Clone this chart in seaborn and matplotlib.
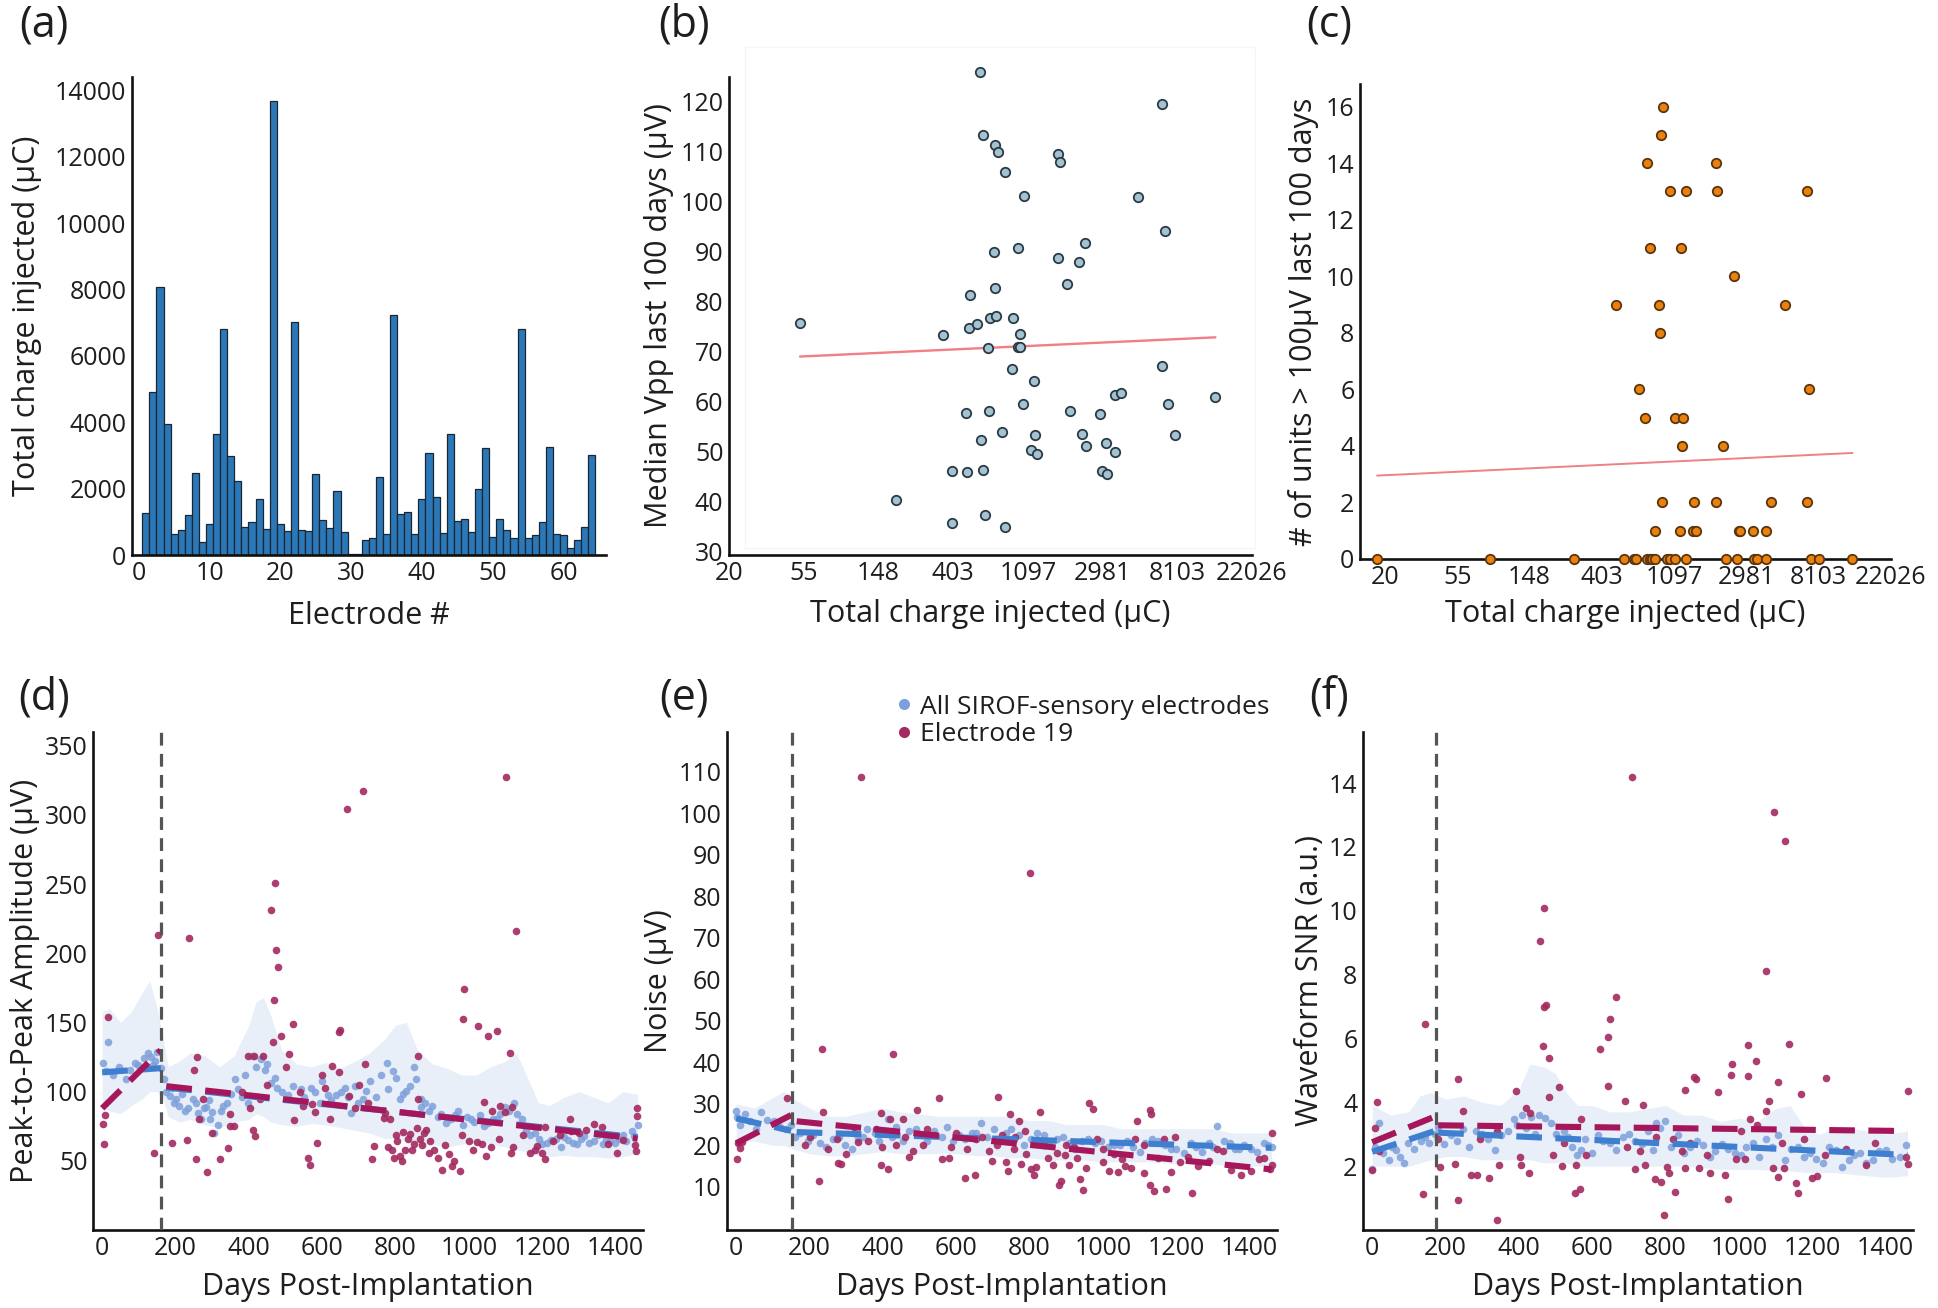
import matplotlib

matplotlib.use("Agg")

import matplotlib.pyplot as plt
from matplotlib.lines import Line2D
from matplotlib.patches import Rectangle
from matplotlib.ticker import NullLocator
import numpy as np
import seaborn as sns

W, H = 1938, 1308

TEXT = "#1e1e1e"
BAR = "#2a78b8"
BAR_EDGE = "#1c2530"
B_FACE = "#a3c2d2"
B_EDGE = "#2b3a44"
C_FACE = "#e8820c"
C_EDGE = "#5b3410"
FIT = "#f07f86"
BLUE_PT = "#7d9fdb"
RED_PT = "#a32a5f"
BLUE_LINE = "#3f7fcf"
RED_LINE = "#a5175a"
BAND = "#e9eff8"
VLINE = "#555555"

# ---------------- panel (a) ----------------
ELECTRODES = list(range(65))
A_CHARGE = [0, 1259, 4924, 8076, 3947, 624, 755, 1208, 2457, 393,
            946, 3645, 6797, 2991, 2235, 856, 997, 1702, 775, 13685,
            926, 725, 7019, 755, 725, 2437, 1047, 826, 1913, 705,
            40, 30, 443, 524, 2356, 624, 7220, 1228, 1299, 644,
            1702, 3061, 1752, 654, 3645, 1027, 1077, 695, 1984, 3212,
            554, 1077, 745, 524, 6797, 503, 594, 1007, 3242, 624,
            604, 222, 443, 846, 3021]

# ---------------- panel (b) ----------------
B_CHARGE = [578, 602, 706, 735, 812, 1043, 1636, 1686, 4768, 6634,
            6905, 699, 963, 1640, 2164, 2368, 702, 1845, 507, 52,
            351, 498, 556, 659, 713, 898, 992, 646, 960, 982,
            889, 1188, 6620, 3533, 3827, 13496, 1033, 7115, 478, 650,
            1920, 2892, 781, 1212, 2275, 7863, 584, 2392, 3134, 1141,
            1236, 3540, 399, 483, 600, 2951, 3166, 189, 614, 400, 804]
B_VPP = [126.0, 113.3, 111.4, 109.9, 106.0, 101.2, 109.6, 108.0, 100.9, 119.6,
         94.2, 90.0, 90.7, 88.8, 88.0, 91.7, 82.7, 83.5, 81.4, 75.7,
         73.3, 74.7, 75.5, 76.8, 77.1, 76.8, 73.6, 70.8, 71.0, 71.0,
         66.5, 64.2, 67.2, 61.3, 61.8, 61.0, 59.5, 59.6, 57.8, 58.2,
         58.2, 57.5, 53.9, 53.3, 53.5, 53.3, 52.3, 51.2, 51.8, 50.4,
         49.5, 50.0, 46.2, 46.0, 46.3, 46.2, 45.6, 40.4, 37.3, 35.7, 34.9]

# ---------------- panel (c) ----------------
C_CHARGE = [944, 916, 757, 1959, 1033, 1287, 1979, 6905, 781, 1200,
            2515, 488, 889, 5117, 898, 672, 7115, 735, 1119, 1236,
            1224, 2164, 925, 1451, 1959, 4188, 6905, 846, 1188, 1422,
            1495, 2697, 2752, 3262, 3905, 18, 86, 276, 545, 633,
            652, 757, 781, 812, 837, 992, 1043, 1119, 1287, 2253,
            2618, 3333, 3463, 3905, 7259, 8103, 12966]
C_UNITS = [16, 15, 14, 14, 13, 13, 13, 13, 11, 11,
           10, 9, 9, 9, 8, 6, 6, 5, 5, 5,
           4, 4, 2, 2, 2, 2, 2, 1, 1, 1,
           1, 1, 1, 1, 1, 0, 0, 0, 0, 0,
           0, 0, 0, 0, 0, 0, 0, 0, 0, 0,
           0, 0, 0, 0, 0, 0, 0]
# fitted trend as drawn in the figure (end points)
C_FIT_CHARGE = [18, 12966]
C_FIT_UNITS = [2.95, 3.75]

CHARGE_TICKS = [20.09, 54.6, 148.4, 403.4, 1096.6, 2981.0, 8103.1, 22026.5]
CHARGE_LABELS = ["20", "55", "148", "403", "1097", "2981", "8103", "22026"]

# ---------------- panel (d) peak-to-peak ----------------
D_BAND_DAYS = [0, 20, 50, 80, 110, 130, 150, 165, 180, 210, 240, 280, 320, 360, 400,
               420, 440, 460, 490, 530, 570, 610, 650, 690, 730, 770, 800, 830, 860,
               900, 940, 980, 1020, 1060, 1100, 1130, 1160, 1190, 1220, 1260, 1300,
               1340, 1380, 1420, 1460]
D_BAND_HI = [158, 160, 150, 158, 172, 180, 160, 140, 118, 122, 128, 126, 118, 126, 148,
             165, 168, 155, 130, 120, 118, 121, 117, 122, 128, 138, 148, 150, 130,
             120, 117, 112, 112, 118, 122, 128, 110, 92, 90, 96, 100,
             96, 92, 100, 98]
D_BAND_LO = [88, 86, 84, 90, 95, 100, 100, 96, 82, 78, 80, 76, 74, 78, 80,
             84, 82, 78, 76, 75, 77, 76, 74, 72, 70, 66, 66, 64, 62,
             62, 60, 62, 63, 62, 60, 58, 56, 54, 53, 54, 53,
             53, 52, 53, 55]
D_BLUE = [(2, 121), (10, 115), (17, 136), (30, 112), (45, 118), (64, 109), (75, 116),
          (90, 121), (99, 119), (115, 124), (125, 128), (133, 125), (139, 119), (145, 122),
          (150, 129), (160, 117), (168, 109), (175, 100), (185, 97), (191, 103), (195, 92),
          (202, 95), (210, 90), (218, 98), (225, 86), (235, 88), (248, 95), (255, 92),
          (260, 84.6), (270, 80), (278, 88), (283, 89), (290, 94), (294, 80), (300, 85),
          (306, 70), (315, 76), (323, 86), (330, 90), (340, 92), (350, 98), (363, 109),
          (370, 102), (380, 96), (390, 112), (398, 92), (409, 126), (420, 118), (432, 123.5),
          (444, 116), (450, 120), (461, 106), (470, 110), (478, 103), (490, 100), (507, 97.6),
          (520, 104), (541, 102), (550, 96), (570, 103), (580, 100), (593, 92), (600, 108),
          (616, 97.6), (625, 94), (639, 97.6), (650, 100), (662, 103), (670, 96), (679, 84.6),
          (690, 104), (697, 92), (710, 95), (720, 100.5), (730, 108), (748, 96), (760, 112),
          (777, 120.7), (780, 102), (794, 115), (800, 110), (811, 94.7), (820, 98),
          (829, 100.5), (840, 104), (850, 118), (857, 109), (869, 89), (870, 95), (880, 92),
          (892, 86), (900, 90), (915, 81.7), (925, 84), (938, 77.4), (950, 80), (961, 83),
          (970, 86), (984, 76), (995, 82), (1007, 80.3), (1015, 78), (1030, 83), (1040, 75),
          (1053, 77.4), (1065, 80), (1076, 80.3), (1085, 84), (1099, 89), (1110, 86),
          (1122, 92), (1130, 84), (1145, 80.3), (1155, 72), (1168, 68.7), (1180, 70),
          (1191, 66), (1200, 62), (1214, 63), (1225, 65), (1237, 66), (1250, 60),
          (1260, 67.3), (1270, 65), (1283, 63), (1295, 62), (1306, 66), (1315, 68),
          (1329, 63), (1340, 64), (1352, 68.7), (1365, 62), (1375, 66), (1385, 64),
          (1398, 63), (1410, 66), (1421, 68.7), (1430, 64), (1444, 71.6), (1450, 68),
          (1461, 76)]
D_RED = [(2, 76.5), (4, 62), (9, 83), (17, 154), (141, 55.5), (152, 213), (191, 63),
         (231, 65), (238, 211), (251, 116), (256, 51), (259, 125), (265, 80), (275, 95),
         (286, 42), (300, 70), (322, 51.4), (343, 59.5), (349, 83.7), (349, 75.4),
         (360, 75), (380, 100), (399, 126), (403, 88.4), (410, 72.5), (415, 125.6),
         (416, 67.9), (430, 95), (438, 125.6), (450, 105), (461, 231), (465, 135.7),
         (468, 166), (472, 251), (475, 202.5), (480, 190), (487, 140), (500, 118),
         (510, 127.3), (521, 149), (524, 79.4), (540, 100), (547, 90), (561, 52), (567, 47),
         (572, 91), (580, 85), (587, 63), (600, 112), (607, 102.5), (620, 80), (628, 118.6),
         (645, 114.3), (647, 143), (649, 144.6), (669, 304.4), (674, 96.7), (690, 88),
         (700, 105), (710, 317.4), (716, 120), (725, 92), (737, 51.4), (741, 61),
         (768, 81), (770, 84.6), (780, 60), (785, 80.6), (791, 57.8), (795, 52),
         (800, 68.7), (805, 64), (811, 53.5), (817, 49.7), (820, 70.5), (826, 58),
         (835, 66), (840, 69.3), (845, 57.8), (850, 62), (858, 74), (862, 126),
         (862, 94.7), (868, 66), (872, 61.5), (878, 70), (883, 72.5), (890, 55.8),
         (895, 64), (905, 58), (915, 52), (928, 43.4), (934, 61.5), (945, 55),
         (953, 46.3), (960, 50), (975, 42.8), (982, 68.7), (984, 152.7), (986, 174),
         (1000, 64), (1010, 58), (1021, 63.8), (1026, 147.8), (1035, 62), (1041, 92.7),
         (1047, 53.5), (1051, 140), (1060, 60), (1064, 86), (1077, 144), (1083, 65.9),
         (1084, 89.5), (1099, 85.5), (1101, 327.8), (1113, 128.2), (1114, 55.8),
         (1117, 88.9), (1120, 60.1), (1128, 216), (1148, 68.7), (1166, 55.8), (1180, 58),
         (1187, 61), (1200, 56), (1209, 51.4), (1209, 74.5), (1230, 64), (1248, 68.7),
         (1277, 80.3), (1279, 71.6), (1300, 70), (1320, 72), (1340, 76.8), (1363, 74.5),
         (1380, 62), (1403, 55.5), (1420, 65), (1453, 61.5), (1457, 57.2), (1459, 82.3),
         (1460, 88)]
D_PRE_DAYS = [0, 160]
D_POST_DAYS = [175, 1460]
D_BLUE_PRE = [114, 117]
D_BLUE_POST = [103, 67]
D_RED_PRE = [88, 130]
D_RED_POST = [104, 66]

# ---------------- panel (e) noise ----------------
E_BAND_DAYS = [0, 50, 100, 130, 160, 200, 250, 300, 350, 400, 450, 500, 550, 600, 650,
               700, 750, 800, 850, 900, 950, 1000, 1050, 1100, 1150, 1200, 1250, 1300,
               1350, 1400, 1460]
E_BAND_HI = [30, 29, 31.5, 33, 31, 29, 27, 27, 28, 29, 28, 27.5, 27, 27, 27,
             27, 27, 26, 26, 25, 25, 25, 24, 24, 24, 24, 24, 24,
             23, 23, 23]
E_BAND_LO = [21, 21, 20, 20, 19, 18, 17.5, 17.5, 18, 18.5, 18, 18, 18, 18, 17.5,
             17.5, 17, 17, 16.5, 16.5, 16.5, 16, 16, 16, 16, 15.5, 15.5, 15.5,
             15, 15, 15]
E_BLUE = [(0, 28.2), (2, 26.8), (10, 25), (25, 27.5), (39, 25.8), (55, 24), (68, 28),
          (85, 26), (103, 25.8), (120, 24.5), (137, 23.9), (150, 25), (160, 22), (175, 23),
          (195, 21), (210, 22.5), (229, 20.6), (245, 19.5), (264, 21.5), (280, 22),
          (298, 20.1), (315, 19), (333, 21.5), (345, 22), (356, 23.9), (379, 23), (390, 21),
          (414, 26.3), (425, 22), (437, 24.4), (455, 21), (472, 23.4), (490, 24),
          (506, 22.5), (520, 21), (540, 23.4), (560, 22), (576, 24.4), (590, 21),
          (609, 22.5), (625, 21.5), (644, 23), (655, 23), (667, 25.4), (685, 22),
          (702, 23.9), (720, 21), (736, 23), (750, 24), (771, 22.5), (785, 20),
          (805, 21.5), (820, 23), (840, 22.5), (855, 20), (874, 21.5), (890, 22),
          (909, 20.6), (925, 19), (944, 21), (960, 21.5), (978, 20.6), (995, 21),
          (1013, 19.6), (1030, 20), (1047, 20.1), (1065, 21), (1082, 19.6), (1100, 18.5),
          (1116, 20.6), (1135, 21.5), (1151, 21), (1170, 20), (1185, 19.1), (1200, 19),
          (1220, 18.2), (1240, 20.5), (1255, 19.6), (1270, 18.5), (1289, 20.6),
          (1300, 19.5), (1312, 24.7), (1330, 21), (1347, 20.6), (1360, 19), (1370, 19.1),
          (1385, 20), (1404, 19.1), (1420, 18.5), (1439, 20.6), (1450, 20), (1462, 19.6)]
E_RED = [(2, 16.7), (4, 20.6), (10, 19.4), (16, 20.7), (139, 31.3), (189, 20.1),
         (200, 22), (227, 11.4), (235, 43.1), (237, 28), (250, 19), (275, 21.5),
         (278, 15.8), (287, 15.4), (300, 18), (320, 23), (333, 20.7), (341, 108.7),
         (360, 21), (380, 24), (396, 27.9), (396, 15.3), (398, 19.6), (415, 14.3),
         (420, 26.3), (427, 42.1), (437, 20.1), (454, 26.3), (460, 22), (471, 17.2),
         (483, 18.6), (494, 28.4), (510, 20), (520, 24), (540, 22.5), (554, 31.4),
         (561, 16.7), (580, 16.9), (586, 19.6), (600, 23), (623, 12.1), (630, 19),
         (650, 12.9), (655, 21.5), (670, 22), (690, 18.6), (699, 16.2), (710, 20),
         (715, 31.6), (725, 22.5), (736, 16), (742, 13.8), (748, 27.5), (759, 19.1),
         (760, 22), (771, 25.8), (777, 15.5), (788, 23.4), (790, 18), (800, 85.7),
         (805, 14.3), (811, 12.9), (817, 14.8), (828, 28), (840, 20.1), (850, 17),
         (863, 15.3), (874, 18.2), (880, 10.5), (886, 11.4), (897, 17.7), (900, 20),
         (909, 15.3), (921, 19.6), (930, 17), (938, 12), (946, 9.2), (955, 14.6),
         (963, 30.2), (972, 28.7), (984, 21.5), (1000, 16), (1001, 19.1), (1018, 13.8),
         (1030, 18), (1041, 13.6), (1053, 16.7), (1060, 15), (1076, 14.5), (1088, 21.5),
         (1093, 25.8), (1111, 13.4), (1111, 20.1), (1128, 28.5), (1128, 10.5),
         (1131, 27.5), (1139, 9), (1150, 17), (1168, 21.5), (1171, 9.5), (1187, 13.6),
         (1197, 22), (1210, 16), (1232, 17.2), (1243, 8.6), (1260, 15), (1289, 16.2),
         (1310, 19), (1329, 18.6), (1350, 14), (1376, 12.9), (1404, 13.8), (1427, 16.7),
         (1440, 17), (1456, 14.3), (1462, 15.3), (1462, 23)]
E_PRE_DAYS = [0, 150]
E_POST_DAYS = [165, 1460]
E_BLUE_PRE = [26.5, 23.5]
E_BLUE_POST = [23.2, 19.4]
E_RED_PRE = [20.5, 27.3]
E_RED_POST = [25.8, 14.2]

# ---------------- panel (f) waveform SNR ----------------
F_BAND_DAYS = [0, 50, 100, 130, 160, 200, 250, 300, 350, 400, 430, 470, 500, 530, 560,
               600, 650, 700, 750, 800, 850, 900, 950, 1000, 1050, 1100, 1140, 1180,
               1220, 1260, 1300, 1350, 1400, 1460]
F_BAND_HI = [3.9, 3.6, 3.7, 4.2, 4.3, 4.1, 4.2, 4.0, 3.9, 4.4, 5.2, 5.1, 4.9, 4.3, 3.9,
             3.9, 3.7, 3.7, 3.8, 3.9, 3.6, 3.6, 3.4, 3.5, 3.4, 3.8, 3.9, 3.2,
             3.0, 3.2, 3.2, 3.1, 3.0, 3.1]
F_BAND_LO = [2.0, 2.0, 2.0, 2.1, 2.2, 2.3, 2.3, 2.2, 2.2, 2.2, 2.2, 2.1, 2.1, 2.1, 2.0,
             2.0, 2.0, 2.0, 2.0, 2.0, 2.0, 1.95, 1.9, 1.9, 1.9, 1.85, 1.85, 1.8,
             1.8, 1.8, 1.75, 1.7, 1.65, 1.7]
F_BLUE = [(0, 1.9), (7, 2.6), (19, 3.35), (30, 2.4), (45, 2.2), (53, 2.6), (65, 2.5),
          (76, 2.29), (88, 2.1), (99, 2.73), (115, 2.55), (134, 2.79), (145, 2.9),
          (156, 2.73), (170, 3.0), (179, 3.23), (195, 2.7), (214, 2.98), (230, 2.8),
          (248, 3.16), (265, 2.6), (282, 3.1), (300, 3.0), (317, 2.85), (335, 2.5),
          (351, 2.98), (370, 3.1), (386, 3.48), (395, 3.3), (409, 3.6), (420, 3.2),
          (432, 3.54), (445, 3.0), (455, 3.6), (470, 3.5), (489, 3.35), (500, 3.0),
          (523, 3.1), (535, 2.9), (546, 2.6), (558, 2.35), (570, 2.5), (581, 2.85),
          (600, 2.4), (615, 2.98), (630, 2.8), (649, 2.73), (665, 2.5), (684, 2.91),
          (700, 3.0), (718, 2.79), (735, 2.7), (753, 3.1), (765, 2.5), (775, 3.35),
          (785, 3.2), (798, 3.41), (815, 2.6), (833, 2.98), (850, 2.4), (867, 2.6),
          (885, 2.8), (901, 2.66), (920, 2.3), (936, 2.48), (955, 2.7), (970, 2.54),
          (990, 2.4), (1005, 2.35), (1020, 2.6), (1039, 2.73), (1055, 2.3), (1073, 2.85),
          (1090, 2.6), (1108, 2.98), (1125, 2.2), (1142, 2.54), (1160, 2.6), (1177, 2.29),
          (1195, 2.4), (1211, 2.23), (1230, 2.1), (1245, 2.6), (1265, 2.5), (1280, 1.98),
          (1300, 2.2), (1314, 2.35), (1330, 2.4), (1348, 2.1), (1365, 2.2), (1383, 2.48),
          (1400, 2.5), (1417, 2.23), (1440, 2.3), (1457, 2.66)]
F_RED = [(0, 1.87), (7, 3.2), (13, 4.01), (19, 2.48), (139, 1.14), (143, 6.45),
         (179, 2.85), (185, 1.98), (225, 2.06), (233, 0.95), (234, 4.73), (248, 3.73),
         (269, 1.73), (285, 1.73), (294, 2.85), (319, 1.63), (340, 0.3), (340, 3.1),
         (346, 2.04), (391, 4.35), (403, 2.29), (406, 2.04), (419, 3.83), (427, 1.79),
         (431, 3.66), (457, 9.04), (465, 5.75), (469, 10.1), (469, 7.0), (474, 7.06),
         (483, 5.4), (483, 4.16), (492, 2.35), (510, 4.48), (518, 2.0), (523, 2.73),
         (552, 1.16), (555, 2.04), (566, 1.28), (569, 3.48), (583, 2.34), (622, 5.66),
         (642, 4.51), (644, 6.04), (648, 6.6), (664, 7.3), (689, 4.04), (695, 2.6),
         (709, 14.2), (716, 1.91), (730, 2.48), (739, 3.91), (743, 2.04), (770, 1.6),
         (775, 2.91), (789, 1.5), (795, 0.48), (804, 1.98), (810, 1.79), (821, 2.85),
         (825, 1.2), (844, 2.48), (852, 1.95), (853, 4.4), (867, 2.73), (878, 4.79),
         (882, 4.73), (892, 1.95), (913, 2.35), (922, 1.79), (944, 4.33), (961, 1.73),
         (970, 0.98), (979, 4.84), (981, 5.19), (993, 2.23), (1005, 3.1), (1016, 2.23),
         (1024, 5.81), (1024, 4.81), (1030, 3.48), (1046, 5.28), (1050, 3.29),
         (1073, 3.73), (1075, 8.1), (1082, 4.04), (1093, 1.95), (1097, 13.1),
         (1108, 4.65), (1108, 1.66), (1119, 2.73), (1123, 1.95), (1125, 12.2),
         (1136, 5.83), (1156, 1.48), (1161, 1.16), (1170, 4.25), (1177, 2.85),
         (1200, 1.63), (1213, 1.7), (1234, 2.35), (1238, 4.75), (1291, 2.54),
         (1348, 2.04), (1372, 2.73), (1457, 2.29), (1460, 2.06), (1460, 4.35)]
F_PRE_DAYS = [0, 170]
F_POST_DAYS = [180, 1460]
F_BLUE_PRE = [2.45, 3.1]
F_BLUE_POST = [3.05, 2.35]
F_RED_PRE = [2.75, 3.55]
F_RED_POST = [3.28, 3.1]

STIM_DAYS = [160, 153, 174]
DAY_TICKS = [0, 200, 400, 600, 800, 1000, 1200, 1400]

sns.set_style("white")
plt.rcParams.update({
    "font.family": ["Open Sans", "DejaVu Sans"],
    "text.color": TEXT,
    "axes.labelcolor": TEXT,
    "xtick.color": TEXT,
    "ytick.color": TEXT,
    "axes.edgecolor": "#111111",
    "axes.linewidth": 1.9,
    "xtick.labelsize": 18,
    "ytick.labelsize": 18,
    "axes.labelsize": 22,
})


def rect(left, right, top, bottom):
    return [left / W, 1 - bottom / H, (right - left) / W, (bottom - top) / H]


def style(ax, xpad=3, ypad=3):
    sns.despine(ax=ax)
    ax.tick_params(length=0, pad=4)
    ax.xaxis.labelpad = xpad
    ax.yaxis.labelpad = ypad


def time_panel(ax, band_days, band_lo, band_hi, blue, red, pre_days, post_days,
               blue_pre, blue_post, red_pre, red_post, stim_day):
    ax.fill_between(band_days, band_lo, band_hi, color=BAND, lw=0, zorder=1)
    blue = np.array(blue)
    red = np.array(red)
    sns.scatterplot(x=blue[:, 0], y=blue[:, 1], color=BLUE_PT, s=30, linewidth=0,
                    alpha=0.85, ax=ax, zorder=2)
    sns.scatterplot(x=red[:, 0], y=red[:, 1], color=RED_PT, s=30, linewidth=0,
                    alpha=0.9, ax=ax, zorder=3)
    for days, vals, color in [(pre_days, blue_pre, BLUE_LINE), (post_days, blue_post, BLUE_LINE),
                              (pre_days, red_pre, RED_LINE), (post_days, red_post, RED_LINE)]:
        ax.plot(days, vals, color=color, lw=4.4, dashes=(4.2, 2.2), zorder=4)
    ax.axvline(stim_day, color=VLINE, lw=2.3, dashes=(4, 2.6), zorder=5)
    ax.set_xlim(-25, 1475)
    ax.set_xticks(DAY_TICKS)
    ax.set_xlabel("Days Post-Implantation")
    style(ax, xpad=8)


fig = plt.figure(figsize=(W / 100, H / 100), dpi=100)

# faint frame behind panel (b)
fig.patches.append(Rectangle((745 / W, 1 - 548 / H), 510 / W, 501 / H,
                             transform=fig.transFigure, fill=False,
                             edgecolor="#f5f5f5", lw=1.0, zorder=0))

# (a)
ax_a = fig.add_axes(rect(132, 606, 77, 555))
sns.barplot(x=ELECTRODES, y=A_CHARGE, color=BAR, saturation=1, edgecolor=BAR_EDGE,
            linewidth=0.9, width=1.0, native_scale=True, errorbar=None, ax=ax_a)
ax_a.set_xlim(-0.95, 66)
ax_a.set_ylim(0, 14400)
ax_a.set_xticks([0, 10, 20, 30, 40, 50, 60])
ax_a.set_yticks(range(0, 14001, 2000))
ax_a.set_xlabel("Electrode #")
ax_a.set_ylabel("Total charge injected (μC)")
style(ax_a, xpad=11, ypad=9)

# (b)
ax_b = fig.add_axes(rect(729, 1252, 77, 555))
sns.scatterplot(x=B_CHARGE, y=B_VPP, color=B_FACE, edgecolor=B_EDGE, linewidth=1.3,
                s=46, clip_on=False, zorder=3, ax=ax_b)
sns.regplot(x=np.array(B_CHARGE, float), y=np.array(B_VPP), logx=True, scatter=False,
            ci=None, line_kws={"color": FIT, "lw": 1.7}, ax=ax_b)
ax_b.set_xscale("log")
ax_b.set_xlim(20.09, 22026.5)
ax_b.set_ylim(29.3, 125)
ax_b.set_xticks(CHARGE_TICKS, CHARGE_LABELS)
ax_b.xaxis.set_minor_locator(NullLocator())
ax_b.set_yticks(range(30, 121, 10))
ax_b.set_xlabel("Total charge injected (μC)")
ax_b.set_ylabel("Median Vpp last 100 days (μV)")
style(ax_b, xpad=10, ypad=5)

# (c)
ax_c = fig.add_axes(rect(1360, 1891, 84, 559))
sns.scatterplot(x=C_CHARGE, y=C_UNITS, color=C_FACE, edgecolor=C_EDGE, linewidth=1.3,
                s=46, clip_on=False, zorder=3, ax=ax_c)
sns.lineplot(x=C_FIT_CHARGE, y=C_FIT_UNITS, color=FIT, lw=1.4, ax=ax_c)
ax_c.set_xscale("log")
ax_c.set_xlim(14.2, 22100)
ax_c.set_ylim(0, 16.8)
ax_c.set_xticks(CHARGE_TICKS, CHARGE_LABELS)
ax_c.xaxis.set_minor_locator(NullLocator())
ax_c.set_yticks(range(0, 17, 2))
ax_c.set_xlabel("Total charge injected (μC)")
ax_c.set_ylabel("# of units > 100μV last 100 days")
style(ax_c, xpad=7, ypad=5)

# (d)
ax_d = fig.add_axes(rect(93, 643, 732, 1230))
time_panel(ax_d, D_BAND_DAYS, D_BAND_LO, D_BAND_HI, D_BLUE, D_RED, D_PRE_DAYS,
           D_POST_DAYS, D_BLUE_PRE, D_BLUE_POST, D_RED_PRE, D_RED_POST, STIM_DAYS[0])
ax_d.set_ylim(0, 360)
ax_d.set_yticks(range(50, 351, 50))
ax_d.set_ylabel("Peak-to-Peak Amplitude (μV)")

# (e)
ax_e = fig.add_axes(rect(727, 1277, 732, 1230))
time_panel(ax_e, E_BAND_DAYS, E_BAND_LO, E_BAND_HI, E_BLUE, E_RED, E_PRE_DAYS,
           E_POST_DAYS, E_BLUE_PRE, E_BLUE_POST, E_RED_PRE, E_RED_POST, STIM_DAYS[1])
ax_e.set_ylim(-0.4, 119.6)
ax_e.set_yticks(range(10, 111, 10))
ax_e.set_ylabel("Noise (μV)")
handles = [Line2D([], [], ls="none", marker="o", ms=8, color=BLUE_PT, mec="none"),
           Line2D([], [], ls="none", marker="o", ms=8, color=RED_PT, mec="none")]
ax_e.legend(handles, ["All SIROF-sensory electrodes", "Electrode 19"], loc="upper left",
            bbox_to_anchor=(0.3, 1.075), frameon=False, fontsize=19, borderpad=0,
            borderaxespad=0, handletextpad=0.15, handlelength=0.9, labelspacing=0.1)

# (f)
ax_f = fig.add_axes(rect(1363, 1913, 732, 1230))
time_panel(ax_f, F_BAND_DAYS, F_BAND_LO, F_BAND_HI, F_BLUE, F_RED, F_PRE_DAYS,
           F_POST_DAYS, F_BLUE_PRE, F_BLUE_POST, F_RED_PRE, F_RED_POST, STIM_DAYS[2])
ax_f.set_ylim(0, 15.6)
ax_f.set_yticks(range(2, 15, 2))
ax_f.set_ylabel("Waveform SNR (a.u.)")

for label, x, y in [("(a)", 44, 25), ("(b)", 684, 25), ("(c)", 1329, 25),
                    ("(d)", 44, 698), ("(e)", 684, 698), ("(f)", 1329, 698)]:
    fig.text(x / W, 1 - y / H, label, ha="center", va="center", fontsize=31)

fig.savefig("out.png", dpi=100)
